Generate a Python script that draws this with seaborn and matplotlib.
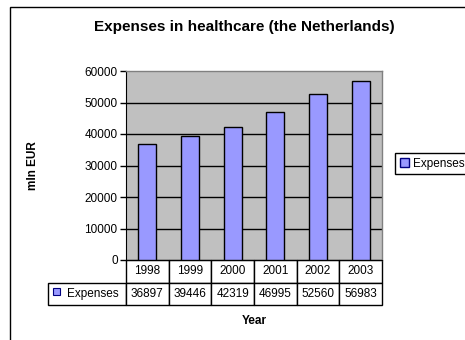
import numpy as np
import pandas as pd
import seaborn as sns
import matplotlib.pyplot as plt
from matplotlib.patches import Rectangle, Patch

years = ['1998', '1999', '2000', '2001', '2002', '2003']
expenses = [36897, 39446, 42319, 46995, 52560, 56983]
yticks = [0, 10000, 20000, 30000, 40000, 50000, 60000]

sns.set_style('white')
plt.rcParams['font.family'] = ['Liberation Sans', 'DejaVu Sans']
plt.rcParams['font.size'] = 8.5
plt.rcParams['text.color'] = 'black'
plt.rcParams['axes.labelcolor'] = 'black'
plt.rcParams['ytick.color'] = 'black'
plt.rcParams['xtick.color'] = 'black'

df = pd.DataFrame({'Year': years, 'Expenses': expenses})

fig = plt.figure(figsize=(4.65, 3.4), dpi=100)
ax = fig.add_axes([126 / 465, 1 - 260 / 340, 256 / 465, 189 / 340])
ax.set_facecolor('#C0C0C0')

sns.barplot(data=df, x='Year', y='Expenses', color='#9999FF', saturation=1,
            edgecolor='black', linewidth=1, width=0.42, ax=ax, zorder=3)

ax.set_xlim(-0.5, 5.5)
ax.set_ylim(0, 60000)
ax.set_yticks(yticks)
ax.set_yticklabels([str(t) for t in yticks], fontsize=8.5)
ax.tick_params(axis='y', length=4, width=1, color='black', pad=2, left=True)
ax.set_xticks([])
for y in yticks[1:-1]:
    ax.axhline(y, color='black', lw=1, zorder=1)

for s in ['top', 'right']:
    ax.spines[s].set_color('#808080')
    ax.spines[s].set_linewidth(1)
ax.spines['left'].set_color('black')
ax.spines['bottom'].set_color('black')

ax.set_ylabel('mln EUR', fontsize=8.5, fontweight='bold')
ax.yaxis.set_label_coords(-0.34, 0.5)
ax.set_xlabel('Year', fontsize=8.5, fontweight='bold')
ax.xaxis.set_label_coords(0.5, -0.29)

# data table under the plot
first_w = 78 / 256
cell_text = [[''] + years, ['Expenses'] + [str(v) for v in expenses]]
tbl = ax.table(cellText=cell_text, colWidths=[first_w] + [1 / 6] * 6,
               cellLoc='center', bbox=[-first_w, -45 / 189, 1 + first_w, 45 / 189])
tbl.auto_set_font_size(False)
tbl.set_fontsize(8.5)
for (r, c), cell in tbl.get_celld().items():
    cell.set_linewidth(1)
    cell.set_edgecolor('black')
    cell.set_facecolor('white')
    cell.get_text().set_color('black')
tbl[0, 0].visible_edges = ''
tbl[1, 0]._text.set_horizontalalignment('right')
ax.add_patch(Rectangle((-73 / 256, -35 / 189), 7 / 256, 7 / 189,
                       transform=ax.transAxes, facecolor='#9999FF',
                       edgecolor='#000080', lw=0.8, clip_on=False, zorder=5))

fig.text(244 / 465, 1 - 27 / 340, 'Expenses in healthcare (the Netherlands)',
         ha='center', va='center', fontsize=11, fontweight='bold')

fig.legend(handles=[Patch(facecolor='#9999FF', edgecolor='#000080', label='Expenses')],
           loc='upper left', bbox_to_anchor=(395 / 465, 1 - 153 / 340),
           fancybox=False, edgecolor='black', framealpha=1, fontsize=8.5,
           handlelength=0.8, handleheight=0.8, handletextpad=0.3,
           borderpad=0.4, borderaxespad=0)

fig.patches.append(Rectangle((10 / 465, -0.1), 1.2, 1.1 - 7 / 340,
                             transform=fig.transFigure, fill=False,
                             edgecolor='black', lw=1))

fig.savefig('out.png', dpi=100)
